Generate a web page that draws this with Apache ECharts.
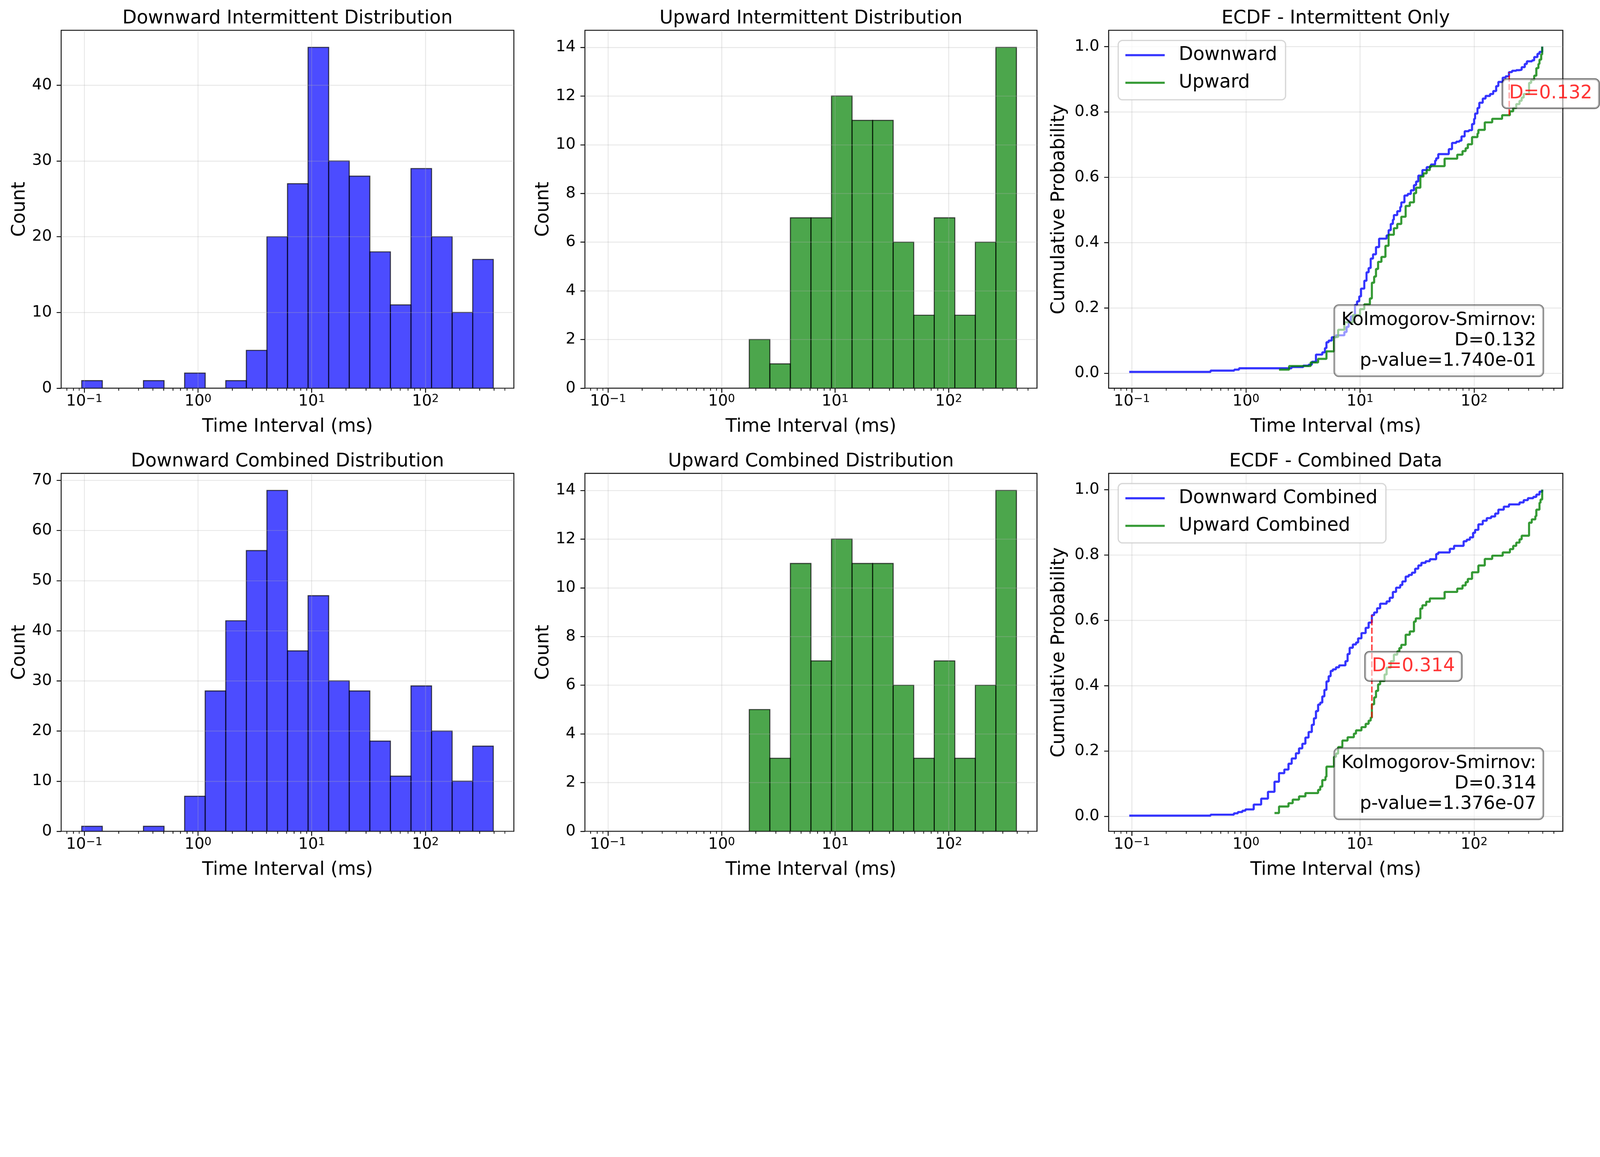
<!DOCTYPE html>
<html><head><meta charset="utf-8">
<script src="https://cdn.jsdelivr.net/npm/echarts@6/dist/echarts.min.js"></script>
<style>html,body{margin:0;padding:0;background:#fff;overflow:hidden;}
#wrap{position:absolute;left:0;top:0;width:5337px;height:2962px;transform-origin:0 0;}
#c{width:5337px;height:2962px;}</style>
</head><body><div id="wrap"><div id="c"></div></div>
<script>
// ---------------- data ----------------
const binMinMs = 0.095;   // left edge of first histogram bin (ms)
const binMaxMs = 395;     // right edge of last histogram bin (ms)
const nBins = 20;

const downIntCounts  = [1,0,0,1,0,2,0,1,5,20,27,45,30,28,18,11,29,20,10,17];
const upIntCounts    = [0,0,0,0,0,0,0,2,1,7,7,12,11,11,6,3,7,3,6,14];
const downCombCounts = [1,0,0,1,0,7,28,42,56,68,36,47,30,28,18,11,29,20,10,17];
const upCombCounts   = [0,0,0,0,0,0,0,5,3,11,7,12,11,11,6,3,7,3,6,14];

// ECDF step points [time (ms), cumulative probability]
const downIntEcdf = [[0.095,0.004],[0.49,0.008],[0.79,0.011],[0.87,0.015],[2.51,0.019],[3.18,0.023],[3.54,0.026],[3.78,0.035],[4.11,0.057],[4.67,0.064],[4.93,0.077],[5.08,0.095],[5.31,0.100],[5.65,0.110],[6.15,0.116],[7.29,0.126],[7.62,0.142],[7.95,0.161],[8.29,0.174],[9.03,0.209],[9.42,0.220],[9.84,0.235],[10.2,0.259],[10.9,0.283],[11.4,0.309],[11.9,0.322],[12.4,0.351],[13.0,0.364],[13.8,0.386],[14.7,0.412],[17.1,0.422],[17.8,0.438],[18.6,0.457],[19.4,0.470],[19.8,0.484],[21.2,0.496],[22.5,0.509],[23.0,0.523],[24.5,0.544],[26.2,0.549],[27.9,0.560],[29.7,0.576],[31.0,0.587],[32.4,0.605],[35.2,0.622],[38.4,0.631],[41.8,0.639],[45.5,0.651],[46.5,0.658],[48.5,0.671],[60.0,0.686],[64.0,0.705],[69.7,0.709],[74.3,0.712],[77.5,0.725],[82.6,0.741],[90.0,0.744],[95.9,0.763],[100,0.779],[102,0.795],[107,0.812],[111,0.828],[119,0.841],[126,0.849],[138,0.855],[147,0.864],[156,0.879],[163,0.892],[178,0.905],[189,0.909],[202,0.922],[215,0.926],[234,0.928],[250,0.929],[261,0.937],[278,0.947],[290,0.955],[322,0.958],[336,0.968],[359,0.978],[374,0.984],[395,1.0]];
const upIntEcdf = [[1.95,0.011],[2.39,0.022],[3.69,0.033],[4.29,0.044],[5.08,0.067],[5.91,0.111],[6.43,0.133],[7.29,0.156],[8.65,0.178],[10.0,0.196],[10.9,0.211],[12.2,0.229],[12.7,0.277],[13.3,0.296],[13.8,0.319],[14.4,0.341],[15.4,0.356],[16.7,0.390],[17.8,0.424],[19.8,0.444],[21.2,0.457],[23.0,0.479],[25.1,0.512],[27.3,0.523],[29.7,0.551],[31.0,0.568],[33.8,0.602],[36.0,0.612],[38.4,0.622],[40.9,0.634],[55.1,0.657],[71.1,0.669],[79.1,0.680],[84.3,0.689],[88.1,0.701],[95.9,0.723],[107,0.734],[109,0.745],[124,0.768],[144,0.779],[176,0.790],[206,0.802],[220,0.812],[234,0.824],[250,0.834],[261,0.844],[272,0.855],[303,0.889],[316,0.898],[336,0.911],[351,0.934],[366,0.947],[374,0.960],[387,0.976],[395,1.0]];
const downCombEcdf = [[0.095,0.002],[0.49,0.005],[0.785,0.009],[0.85,0.013],[0.93,0.017],[0.99,0.021],[1.17,0.036],[1.36,0.054],[1.56,0.075],[1.78,0.106],[1.95,0.132],[2.17,0.143],[2.36,0.161],[2.52,0.177],[2.74,0.193],[2.92,0.208],[3.12,0.222],[3.32,0.241],[3.54,0.258],[3.78,0.280],[3.94,0.300],[4.11,0.322],[4.29,0.342],[4.48,0.348],[4.67,0.367],[4.87,0.387],[5.08,0.413],[5.31,0.429],[5.53,0.445],[5.78,0.450],[6.15,0.456],[6.56,0.462],[7.45,0.475],[7.78,0.497],[8.11,0.516],[8.65,0.526],[9.22,0.532],[9.62,0.545],[10.3,0.561],[11.2,0.577],[11.9,0.593],[12.7,0.616],[13.3,0.624],[14.1,0.637],[15.0,0.651],[17.1,0.658],[18.2,0.669],[19.4,0.687],[20.7,0.700],[22.5,0.708],[23.5,0.719],[25.1,0.734],[26.7,0.739],[28.5,0.746],[30.4,0.758],[32.4,0.768],[34.5,0.776],[37.6,0.781],[40.9,0.787],[46.5,0.803],[48.5,0.808],[61.2,0.819],[66.7,0.828],[80.9,0.842],[86.1,0.847],[91.8,0.854],[97.9,0.868],[102,0.877],[109,0.894],[119,0.905],[129,0.913],[141,0.918],[153,0.927],[163,0.939],[182,0.948],[202,0.955],[250,0.961],[272,0.968],[296,0.974],[330,0.978],[351,0.985],[374,0.994],[395,1.0]];
const upCombEcdf = [[1.78,0.010],[1.95,0.030],[2.36,0.040],[2.57,0.051],[2.92,0.061],[3.32,0.071],[4.29,0.081],[4.48,0.091],[4.67,0.111],[4.98,0.121],[5.08,0.152],[5.91,0.182],[6.15,0.192],[6.43,0.212],[7.00,0.232],[7.78,0.242],[8.83,0.253],[9.22,0.263],[10.3,0.273],[11.2,0.283],[11.9,0.293],[12.4,0.302],[12.7,0.343],[13.3,0.364],[13.8,0.384],[14.4,0.404],[15.0,0.414],[16.4,0.434],[17.1,0.455],[18.6,0.475],[19.8,0.495],[21.2,0.505],[22.1,0.515],[23.0,0.525],[25.1,0.556],[27.3,0.566],[29.7,0.596],[30.8,0.606],[33.8,0.636],[35.2,0.646],[38.0,0.657],[40.9,0.667],[55.1,0.687],[71.1,0.697],[79.1,0.707],[84.3,0.717],[88.1,0.727],[95.9,0.747],[109,0.768],[124,0.788],[144,0.798],[178,0.808],[206,0.818],[220,0.828],[234,0.838],[250,0.848],[261,0.859],[303,0.899],[320,0.909],[344,0.919],[351,0.939],[374,0.960],[382,0.970],[395,1.0]];

// KS statistics: [D, p-value text], D location [x ms, lower y, upper y]
const ksIntStats  = ['0.132', '1.740e-01'];
const ksIntDLine  = [203, 0.790, 0.922];
const ksCombStats = ['0.314', '1.376e-07'];
const ksCombDLine = [12.7, 0.302, 0.616];

// tick labels
const xTickExps = [-1, 0, 1, 2];
const xTickSups = ['\u22121', '0', '1', '2'];
const countTicks40 = [0,10,20,30,40];
const countTicks14 = [0,2,4,6,8,10,12,14];
const countTicks70 = [0,10,20,30,40,50,60,70];
const probTicks = [0,0.2,0.4,0.6,0.8,1.0];

const titles = ['Downward Intermittent Distribution','Upward Intermittent Distribution','ECDF - Intermittent Only',
                'Downward Combined Distribution','Upward Combined Distribution','ECDF - Combined Data'];

// ---------------- layout / style ----------------
const FONT = 'DejaVu Sans';
const colLeft = [204, 1951, 3698];
const colW = [1510, 1508, 1515];
const rowTop = [101, 1579];
const rowH = 1194;
const BLUE_FILL = 'rgba(0,0,255,0.7)';
const GREEN_FILL = 'rgba(0,128,0,0.7)';
const BLUE_LINE = 'rgba(0,0,255,0.8)';
const GREEN_LINE = 'rgba(0,128,0,0.8)';
const LINE_W = 7;

const lgLo = Math.log10(binMinMs), lgHi = Math.log10(binMaxMs);
const binW = (lgHi - lgLo) / nBins;
const edgesLog = Array.from({length: nBins + 1}, (_, i) => lgLo + i * binW);
const X_MIN = lgLo - 0.05 * (lgHi - lgLo), X_MAX = lgHi + 0.05 * (lgHi - lgLo);
const minorVals = [];
for (let k = -2; k <= 2; k++) for (let m = 2; m <= 9; m++) {
  const v = Math.log10(m * Math.pow(10, k));
  if (v > X_MIN && v < X_MAX) minorVals.push(v);
}

const grids = [], xAxes = [], yAxes = [], series = [], titleOpts = [], legends = [], graphics = [];
const gridRect = [];
for (let r = 0; r < 2; r++) for (let c = 0; c < 3; c++) {
  const g = r * 3 + c;
  gridRect.push({left: colLeft[c], top: rowTop[r], width: colW[c], height: rowH});
  grids.push({left: colLeft[c], top: rowTop[r], width: colW[c], height: rowH, show: true,
    borderColor: '#000', borderWidth: 3, backgroundColor: 'transparent', containLabel: false});
  titleOpts.push({text: titles[g], left: colLeft[c] + colW[c] / 2, top: rowTop[r] - 70, textAlign: 'center', padding: 0,
    textStyle: {fontSize: 62, fontWeight: 'normal', color: '#000', fontFamily: FONT}});
}

const gridLineStyle = {color: 'rgba(176,176,176,0.3)', width: 3};
function mainX(g, zAx) {
  return {type: 'value', gridIndex: g, position: 'bottom', min: X_MIN, max: X_MAX, z: zAx,
    name: 'Time Interval (ms)', nameLocation: 'middle', nameGap: 98,
    nameTextStyle: {fontSize: 62, color: '#000', fontFamily: FONT},
    axisLine: {show: false, onZero: false},
    axisTick: {show: true, inside: false, length: 15, lineStyle: {color: '#000', width: 3}, customValues: xTickExps},
    axisLabel: {show: true, margin: 18, fontSize: 52, color: '#000', fontFamily: FONT, customValues: xTickExps,
      formatter: v => '{b|10}{s|' + xTickSups[xTickExps.indexOf(Math.round(v))] + '}',
      rich: {
        b: {fontSize: 52, lineHeight: 52, fontFamily: FONT, color: '#000', verticalAlign: 'bottom'},
        s: {fontSize: 37, lineHeight: 37, fontFamily: FONT, color: '#000', verticalAlign: 'top', padding: [0, 0, 23, 0]}
      }},
    splitLine: {show: true, lineStyle: gridLineStyle}};
}
function minorX(g) {
  return {type: 'value', gridIndex: g, position: 'bottom', min: X_MIN, max: X_MAX, z: 3,
    axisLine: {show: false, onZero: false}, axisLabel: {show: false}, splitLine: {show: false},
    axisTick: {show: true, inside: false, length: 8.3, lineStyle: {color: '#000', width: 2.3}, customValues: minorVals}};
}
function yAx(g, min, max, ticks, name, gap, fmt, zAx) {
  return {type: 'value', gridIndex: g, position: 'left', min: min, max: max, z: zAx,
    name: name, nameLocation: 'middle', nameGap: gap, nameRotate: 90,
    nameTextStyle: {fontSize: 62, color: '#000', fontFamily: FONT},
    axisLine: {show: false, onZero: false},
    axisTick: {show: true, inside: false, length: 15, lineStyle: {color: '#000', width: 3}, customValues: ticks},
    axisLabel: {show: true, margin: 31, fontSize: 52, color: '#000', fontFamily: FONT, customValues: ticks, formatter: fmt},
    splitLine: {show: true, lineStyle: gridLineStyle}};
}
function histSeries(g, counts, fill) {
  return {type: 'custom', xAxisIndex: g, yAxisIndex: g, z: 2, clip: false, silent: true,
    encode: {x: [0, 1], y: 2},
    data: counts.map((cnt, i) => [edgesLog[i], edgesLog[i + 1], cnt]),
    renderItem: (params, api) => {
      const a = api.coord([api.value(0), api.value(2)]);
      const b = api.coord([api.value(1), 0]);
      return {type: 'rect', shape: {x: a[0], y: a[1], width: b[0] - a[0], height: b[1] - a[1]},
        style: {fill: fill, stroke: 'rgba(0,0,0,0.7)', lineWidth: 3.4}};
    }};
}
function ecdfSeries(g, name, pts, color) {
  return {type: 'line', name: name, xAxisIndex: g, yAxisIndex: g, step: 'end', symbol: 'none', showSymbol: false,
    silent: true, z: 3, data: pts.map(p => [Math.log10(p[0]), p[1]]),
    lineStyle: {color: color, width: LINE_W}, itemStyle: {color: color}};
}
function dSeries(g, dl, dText) {
  const xl = Math.log10(dl[0]);
  return [
    {type: 'line', xAxisIndex: g, yAxisIndex: g, symbol: 'none', silent: true, z: 4,
      data: [[xl, dl[1]], [xl, dl[2]]],
      lineStyle: {color: 'rgba(255,0,0,0.8)', width: 4.8, type: [20, 8]}},
    {type: 'scatter', xAxisIndex: g, yAxisIndex: g, symbolSize: 0, silent: true, z: 6,
      itemStyle: {color: 'transparent'},
      data: [[xl, (dl[1] + dl[2]) / 2]],
      label: {show: true, position: 'right', distance: -22, formatter: 'D=' + dText,
        color: 'red', fontSize: 62, fontFamily: FONT, lineHeight: 62,
        backgroundColor: 'rgba(255,255,255,0.7)', borderColor: 'rgba(0,0,0,0.7)', borderWidth: 3.3,
        borderRadius: 14, padding: [17, 22, 17, 22]}}
  ];
}
function ksBox(g, stats) {
  const R = gridRect[g];
  graphics.push({type: 'text', z: 100, x: R.left + 0.95 * R.width + 10, y: R.top + R.height * 0.95 + 19,
    style: {text: 'Kolmogorov-Smirnov:\nD=' + stats[0] + '\np-value=' + stats[1],
      align: 'right', verticalAlign: 'bottom', fontSize: 61, fontFamily: FONT, fill: '#000', lineHeight: 68,
      backgroundColor: 'rgba(255,255,255,0.5)', borderColor: 'rgba(0,0,0,0.5)', borderWidth: 3.3,
      borderRadius: 15, padding: [16, 23, 16, 23]}});
}
function legendFor(g, names) {
  const R = gridRect[g];
  legends.push({data: names, orient: 'vertical', left: R.left + 32, top: R.top + 34, selectedMode: false,
    icon: 'rect', itemWidth: 131, itemHeight: LINE_W, itemGap: 30, padding: [18, 28, 26, 24],
    backgroundColor: 'rgba(255,255,255,0.8)', borderColor: 'rgba(204,204,204,0.8)', borderWidth: 4, borderRadius: 14,
    textStyle: {fontSize: 62, fontFamily: FONT, color: '#000', lineHeight: 62, padding: [0, 0, 0, 42]}});
}

const fmtInt = v => String(Math.round(v));
const fmtProb = v => v.toFixed(1);
const histSets = [
  [0, downIntCounts, BLUE_FILL, countTicks40],
  [1, upIntCounts, GREEN_FILL, countTicks14],
  [3, downCombCounts, BLUE_FILL, countTicks70],
  [4, upCombCounts, GREEN_FILL, countTicks14]
];
const yAxisByGrid = {};
histSets.forEach(([g, counts, fill, ticks]) => {
  yAxisByGrid[g] = yAx(g, 0, 1.05 * Math.max(...counts), ticks, 'Count', 107, fmtInt, 3);
  series.push(histSeries(g, counts, fill));
});
[2, 5].forEach(g => { yAxisByGrid[g] = yAx(g, -0.046, 1.05, probTicks, 'Cumulative Probability', 134, fmtProb, 0); });
for (let g = 0; g < 6; g++) { xAxes.push(mainX(g, (g === 2 || g === 5) ? 0 : 3)); yAxes.push(yAxisByGrid[g]); }
for (let g = 0; g < 6; g++) xAxes.push(minorX(g));

series.push(ecdfSeries(2, 'Downward', downIntEcdf, BLUE_LINE));
series.push(ecdfSeries(2, 'Upward', upIntEcdf, GREEN_LINE));
series.push(...dSeries(2, ksIntDLine, ksIntStats[0]));
series.push(ecdfSeries(5, 'Downward Combined', downCombEcdf, BLUE_LINE));
series.push(ecdfSeries(5, 'Upward Combined', upCombEcdf, GREEN_LINE));
series.push(...dSeries(5, ksCombDLine, ksCombStats[0]));
legendFor(2, ['Downward', 'Upward']);
legendFor(5, ['Downward Combined', 'Upward Combined']);
ksBox(2, ksIntStats);
ksBox(5, ksCombStats);

// fit the 5337x2962 drawing into the actual viewport
const S = Math.min(window.innerWidth / 5337, window.innerHeight / 2962) || 1;
document.getElementById('wrap').style.transform = 'scale(' + S + ')';
const dpr = Math.max(1, S * (window.devicePixelRatio || 1));
const chart = echarts.init(document.getElementById('c'), null, {renderer: 'canvas', devicePixelRatio: dpr});
chart.setOption({
  animation: false,
  backgroundColor: '#fff',
  textStyle: {fontFamily: FONT},
  title: titleOpts,
  grid: grids,
  xAxis: xAxes,
  yAxis: yAxes,
  legend: legends,
  series: series,
  graphic: graphics
});
</script></body></html>
